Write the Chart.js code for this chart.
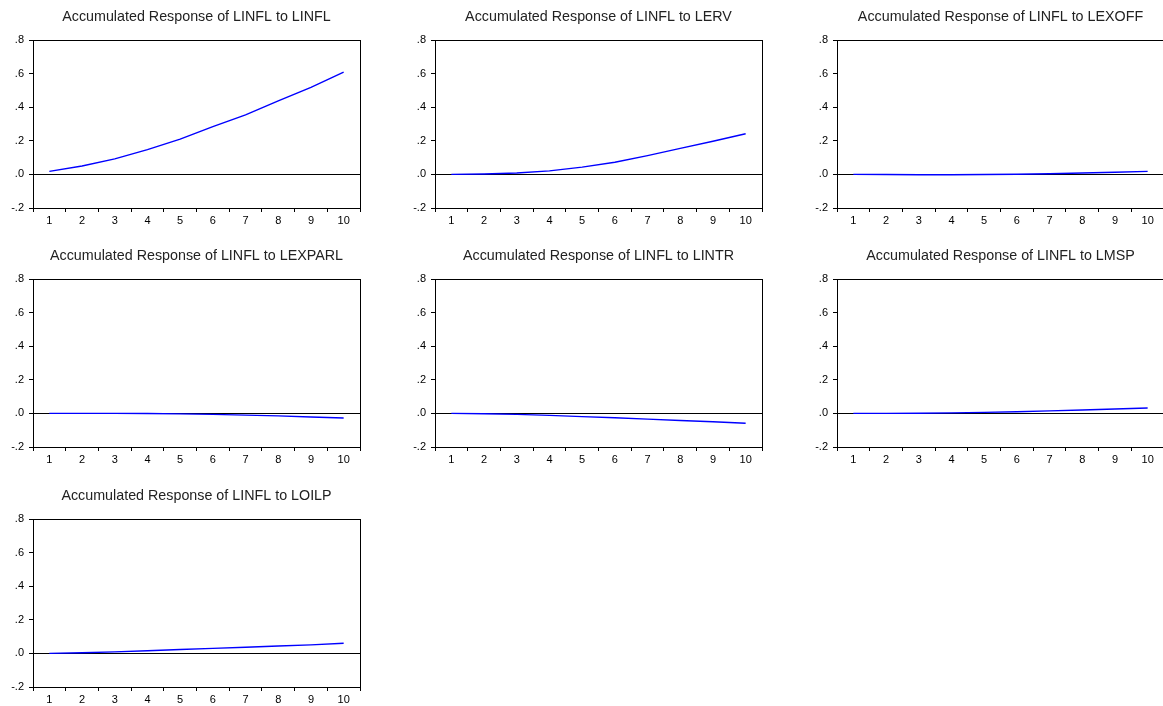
<!DOCTYPE html>
<html>
<head>
<meta charset="utf-8">
<script src="https://cdn.jsdelivr.net/npm/chart.js@4/dist/chart.umd.min.js"></script>
<style>
  html, body { margin: 0; padding: 0; background: #fff; overflow: hidden; width: 1163px; height: 706px; }
  canvas { position: absolute; }
</style>
</head>
<body>
<script>
// ---- Data ----
const periods = ['1', '2', '3', '4', '5', '6', '7', '8', '9', '10'];
const yTickValues = [-0.2, 0, 0.2, 0.4, 0.6, 0.8];
const yTickLabels = ['-.2', '.0', '.2', '.4', '.6', '.8'];

const titles = [
  'Accumulated Response of LINFL to LINFL',
  'Accumulated Response of LINFL to LERV',
  'Accumulated Response of LINFL to LEXOFF',
  'Accumulated Response of LINFL to LEXPARL',
  'Accumulated Response of LINFL to LINTR',
  'Accumulated Response of LINFL to LMSP',
  'Accumulated Response of LINFL to LOILP'
];

const respLINFL   = [0.018, 0.050, 0.092, 0.147, 0.210, 0.284, 0.354, 0.438, 0.518, 0.609];
const respLERV    = [0.000, 0.002, 0.008, 0.021, 0.043, 0.072, 0.112, 0.155, 0.197, 0.242];
const respLEXOFF  = [0.000, -0.001, -0.002, -0.002, -0.001, 0.001, 0.004, 0.008, 0.013, 0.018];
const respLEXPARL = [0.000, 0.000, 0.000, -0.001, -0.003, -0.006, -0.010, -0.015, -0.021, -0.027];
const respLINTR   = [0.000, -0.002, -0.006, -0.012, -0.019, -0.026, -0.034, -0.042, -0.050, -0.059];
const respLMSP    = [0.000, 0.000, 0.001, 0.003, 0.006, 0.010, 0.015, 0.020, 0.026, 0.032];
const respLOILP   = [0.000, 0.004, 0.009, 0.016, 0.023, 0.030, 0.037, 0.044, 0.051, 0.060];

const series = [respLINFL, respLERV, respLEXOFF, respLEXPARL, respLINTR, respLMSP, respLOILP];

// ---- Layout ----
const boxLefts = [33, 435, 837];
const boxTops = [40, 279, 519];
const FONT = '"Liberation Sans", Arial, sans-serif';

const framePlugin = {
  id: 'frame',
  beforeDatasetsDraw(chart) {
    const { ctx, chartArea: a, scales } = chart;
    ctx.save();
    const y0 = Math.round(scales.y.getPixelForValue(0)) + 0.5;
    ctx.strokeStyle = '#000';
    ctx.lineWidth = 1;
    ctx.beginPath();
    ctx.moveTo(a.left, y0);
    ctx.lineTo(a.right, y0);
    ctx.stroke();
    ctx.restore();
  },
  afterDatasetsDraw(chart, args, opts) {
    const { ctx, chartArea: a } = chart;
    ctx.save();
    ctx.strokeStyle = '#000';
    ctx.lineWidth = 1;
    ctx.strokeRect(Math.round(a.left) + 0.5, Math.round(a.top) + 0.5,
                   Math.round(a.right - a.left), Math.round(a.bottom - a.top));
    ctx.fillStyle = '#222';
    ctx.font = '14.3px ' + FONT;
    ctx.textAlign = 'center';
    ctx.textBaseline = 'middle';
    ctx.fillText(opts.text, (a.left + a.right) / 2, a.top - 23);
    ctx.restore();
  }
};

series.forEach((data, i) => {
  const col = i % 3, row = Math.floor(i / 3);
  const cv = document.createElement('canvas');
  cv.width = 375; cv.height = 240;
  cv.style.left = (boxLefts[col] - 33) + 'px';
  cv.style.top = (boxTops[row] - 40) + 'px';
  cv.style.width = '375px'; cv.style.height = '240px';
  document.body.appendChild(cv);

  new Chart(cv, {
    type: 'line',
    data: {
      labels: periods,
      datasets: [{
        data: data,
        borderColor: '#0000ff',
        borderWidth: 1.4,
        pointRadius: 0,
        tension: 0,
        fill: false
      }]
    },
    options: {
      responsive: false,
      animation: false,
      devicePixelRatio: 1,
      layout: { padding: { top: 40, right: 375 - 360, left: 0, bottom: 0 } },
      plugins: {
        legend: { display: false },
        tooltip: { enabled: false },
        frame: { text: titles[i] }
      },
      scales: {
        x: {
          type: 'category',
          offset: true,
          border: { display: false },
          grid: { offset: true, drawOnChartArea: false, drawTicks: true, tickLength: 4, color: '#000' },
          ticks: { color: '#000', font: { family: FONT, size: 11 }, padding: 2, maxRotation: 0, autoSkip: false },
          afterFit(s) { s.height = 32; }
        },
        y: {
          min: -0.2, max: 0.8,
          border: { display: false },
          afterBuildTicks(s) { s.ticks = yTickValues.map(v => ({ value: v })); },
          grid: { drawOnChartArea: false, drawTicks: true, tickLength: 4, color: '#000' },
          ticks: {
            color: '#000', font: { family: FONT, size: 11 }, padding: 5,
            callback(v) {
              const k = yTickValues.findIndex(t => Math.abs(t - v) < 1e-9);
              return k >= 0 ? yTickLabels[k] : '';
            }
          },
          afterFit(s) { s.width = 33; }
        }
      }
    },
    plugins: [framePlugin]
  });
});
</script>
</body>
</html>
